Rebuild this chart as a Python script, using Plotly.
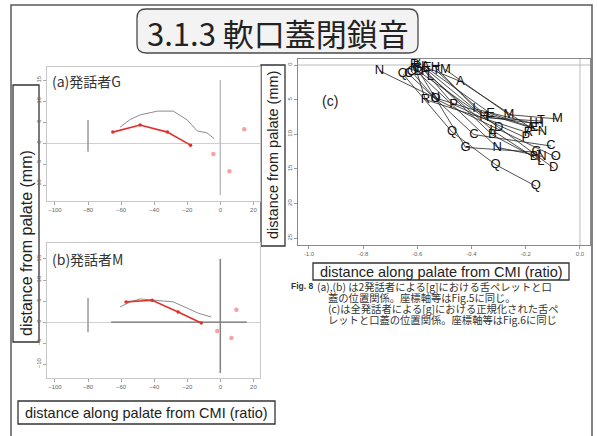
import plotly.graph_objects as go

W, H = 597, 436

# ---------------- data ----------------
# panel (a) speaker G
a_palate_x = [-60.6, -54.5, -48.5, -38.0, -28.5, -20.0, -14.0, -8.0, -3.6]
a_palate_y = [3.8, 5.6, 6.7, 7.6, 7.6, 5.5, 2.9, 2.4, 1.0]
a_tongue_x = [-65.0, -48.5, -32.0, -18.0]
a_tongue_y = [2.6, 4.3, 2.6, -0.5]
a_ref_x = [-4.2, 5.5, 14.5]
a_ref_y = [-2.6, -6.7, 3.3]
a_incisor_y = [5.5, -2.1]
a_origin_y = [15.0, -12.4]

# panel (b) speaker M
b_palate_x = [-60.6, -54.5, -48.5, -40.6, -28.5, -20.0, -13.3, -5.5]
b_palate_y = [3.6, 4.8, 5.5, 5.2, 4.8, 3.3, 2.1, 1.2]
b_tongue_x = [-57.0, -41.2, -25.5, -11.5]
b_tongue_y = [4.8, 5.2, 2.4, -0.2]
b_ref_x = [-1.8, 6.7, 9.7]
b_ref_y = [-2.1, -3.8, 2.9]
b_incisor_y = [5.7, -2.4]
b_origin_y = [15.0, -12.1]
b_base_x = [-66.0, 16.0]

ab_xticks = [-100, -80, -60, -40, -20, 0, 20]
ab_yticks = [15, 10, 5, 0, -5, -10]

# panel (c) all speakers, normalised
c_series = {
    "A": ([-0.570, -0.441, -0.180], [0.3, 2.36, 9.1]),
    "B": ([-0.601, -0.323, -0.169], [-0.29, 10.1, 13.3]),
    "C": ([-0.632, -0.391, -0.107], [1.3, 10.05, 11.7]),
    "D": ([-0.595, -0.300, -0.097], [0.91, 9.0, 14.9]),
    "E": ([-0.564, -0.330, -0.170], [0.43, 7.0, 9.1]),
    "G": ([-0.600, -0.422, -0.160], [0.5, 11.9, 12.6]),
    "H": ([-0.533, -0.354, -0.150], [0.34, 7.5, 8.5]),
    "I": ([-0.580, -0.391, -0.181], [0.2, 6.3, 8.37]),
    "L": ([-0.552, -0.320, -0.144], [1.64, 9.5, 14.0]),
    "M": ([-0.496, -0.262, -0.083], [0.67, 7.17, 7.79]),
    "N": ([-0.740, -0.533, -0.138], [0.82, 4.76, 9.57]),
    "K": ([-0.610, -0.305, -0.140], [0.6, 11.9, 13.2]),
    "O": ([-0.620, -0.533, -0.089], [1.0, 4.9, 13.3]),
    "P": ([-0.570, -0.466, -0.200], [1.0, 5.72, 10.5]),
    "Q": ([-0.653, -0.472, -0.311, -0.163], [1.3, 9.67, 14.4, 17.5]),
    "R": ([-0.610, -0.570, -0.190], [0.0, 5.0, 9.8]),
    "T": ([-0.530, -0.340, -0.144], [0.8, 7.6, 8.1]),
}
c_labels = {"K": "N"}
c_xticks = [-1.0, -0.8, -0.6, -0.4, -0.2, 0.0]
c_xticklabels = ["-1.0", "-0.8", "-0.6", "-0.4", "-0.2", "0.0"]
c_yticks = [0, 5, 10, 15, 20, 25]

# ---------------- helpers ----------------
def px(x):
    return x / W

def py(y):
    return 1 - y / H

SANS = "Liberation Sans, Arial, sans-serif"
CJK = "Noto Sans CJK JP, sans-serif"

fig = go.Figure()

def panel_ab(xa, ya, pal_x, pal_y, ton_x, ton_y, ref_x, ref_y, inc_y, org_y, org_col):
    fig.add_trace(go.Scatter(x=[-80, -80], y=inc_y, mode="lines",
                             line=dict(color="#999999", width=1.5),
                             xaxis=xa, yaxis=ya, showlegend=False))
    fig.add_trace(go.Scatter(x=[0, 0], y=org_y, mode="lines",
                             line=dict(color=org_col, width=1.5),
                             xaxis=xa, yaxis=ya, showlegend=False))
    fig.add_trace(go.Scatter(x=pal_x, y=pal_y, mode="lines",
                             line=dict(color="#8c8c8c", width=1.0),
                             xaxis=xa, yaxis=ya, showlegend=False))
    fig.add_trace(go.Scatter(x=ton_x, y=ton_y, mode="lines+markers",
                             line=dict(color="#e0302a", width=1.6),
                             marker=dict(color="#e0302a", size=3.5),
                             xaxis=xa, yaxis=ya, showlegend=False))
    fig.add_trace(go.Scatter(x=ref_x, y=ref_y, mode="markers",
                             marker=dict(color="#f4a3a3", size=4.5),
                             xaxis=xa, yaxis=ya, showlegend=False))

panel_ab("x", "y", a_palate_x, a_palate_y, a_tongue_x, a_tongue_y,
         a_ref_x, a_ref_y, a_incisor_y, a_origin_y, "#bdbdbd")
fig.add_trace(go.Scatter(x=b_base_x, y=[0, 0], mode="lines",
                         line=dict(color="#707070", width=1.2),
                         xaxis="x2", yaxis="y2", showlegend=False))
panel_ab("x2", "y2", b_palate_x, b_palate_y, b_tongue_x, b_tongue_y,
         b_ref_x, b_ref_y, b_incisor_y, b_origin_y, "#808080")

# panel c reference lines
fig.add_trace(go.Scatter(x=[-1.04, 0.037], y=[0, 0], mode="lines",
                         line=dict(color="#bbbbbb", width=1),
                         xaxis="x3", yaxis="y3", showlegend=False))
fig.add_trace(go.Scatter(x=[0, 0], y=[-0.87, 26.0], mode="lines",
                         line=dict(color="#bbbbbb", width=1),
                         xaxis="x3", yaxis="y3", showlegend=False))
for key, (xs, ys) in c_series.items():
    lab = c_labels.get(key, key)
    fig.add_trace(go.Scatter(x=xs, y=ys, mode="lines+text",
                             text=[lab] * len(xs), textposition="middle center",
                             textfont=dict(family=SANS, size=13, color="#111111"),
                             line=dict(color="#222222", width=0.8),
                             xaxis="x3", yaxis="y3", showlegend=False))

tickfont = dict(family=SANS, size=6, color="#666666")
ab_x = dict(range=[-104.8, 24], tickvals=ab_xticks, showline=True, mirror=True,
            linecolor="#c8c8c8", linewidth=1, ticks="outside", ticklen=3,
            tickcolor="#aaaaaa", showgrid=False, zeroline=False, tickfont=tickfont,
            domain=[px(47), px(260)])
ab_y = dict(tickvals=ab_yticks, showline=True, mirror=True, linecolor="#c8c8c8",
            linewidth=1, ticks="outside", ticklen=3, tickcolor="#aaaaaa",
            showgrid=False, zeroline=True, zerolinecolor="#d0d0d0", zerolinewidth=1,
            tickfont=tickfont, tickangle=-90)

fig.update_layout(
    width=W, height=H, margin=dict(l=0, r=0, t=0, b=0),
    paper_bgcolor="white", plot_bgcolor="white",
    xaxis=dict(ab_x, anchor="y"),
    yaxis=dict(ab_y, range=[-13.8, 18.1], domain=[py(201), py(67)], anchor="x"),
    xaxis2=dict(ab_x, anchor="y2"),
    yaxis2=dict(ab_y, range=[-13.3, 18.8], domain=[py(378), py(243)], anchor="x2"),
    xaxis3=dict(range=[-1.04, 0.037], tickvals=c_xticks, ticktext=c_xticklabels,
                domain=[px(298), px(590)], anchor="y3", showline=True, mirror=True,
                linecolor="#8a8a8a", linewidth=1, ticks="outside", ticklen=3,
                tickcolor="#999999", showgrid=False, zeroline=False, tickfont=tickfont),
    yaxis3=dict(range=[26.0, -0.87], tickvals=c_yticks, domain=[py(245), py(59)],
                anchor="x3", showline=True, mirror=True, linecolor="#8a8a8a",
                linewidth=1, ticks="outside", ticklen=3, tickcolor="#999999",
                showgrid=False, zeroline=False, tickfont=tickfont, tickangle=-90),
)

shapes = []
# slide frame
shapes.append(dict(type="rect", xref="paper", yref="paper", x0=px(11), x1=px(592),
                   y0=py(445), y1=py(5), line=dict(color="#5a5a5a", width=1.5)))
# title rounded box
x0, x1, y0, y1 = px(137), px(418), py(53), py(9)
rx, ry = 9 / W, 9 / H
path = (f"M {x0+rx},{y1} L {x1-rx},{y1} Q {x1},{y1} {x1},{y1-ry} "
        f"L {x1},{y0+ry} Q {x1},{y0} {x1-rx},{y0} L {x0+rx},{y0} "
        f"Q {x0},{y0} {x0},{y0+ry} L {x0},{y1-ry} Q {x0},{y1} {x0+rx},{y1} Z")
shapes.append(dict(type="path", xref="paper", yref="paper", path=path,
                   fillcolor="#f3f3f3", line=dict(color="#4a4a4a", width=1.3), layer="below"))
# axis title boxes
for (l, t, r, b) in [(13, 85, 39, 342), (261, 65, 285, 246),
                     (18, 401, 275, 424), (313, 263, 569, 280)]:
    shapes.append(dict(type="rect", xref="paper", yref="paper", x0=px(l), x1=px(r),
                       y0=py(b), y1=py(t), fillcolor="white",
                       line=dict(color="#333333", width=1.3), layer="below"))
fig.update_layout(shapes=shapes)


def A(text, x, y, font, xanchor="center", angle=0):
    return dict(text=text, x=px(x), y=py(y), xref="paper", yref="paper",
                xanchor=xanchor, yanchor="middle", textangle=angle,
                showarrow=False, font=font, borderpad=0)


ann = [
    A("3.1.3 軟口蓋閉鎖音", 278, 32, dict(family=CJK, size=31, color="#222222")),
    A("(a)発話者G", 51, 81, dict(family=CJK, size=14, color="#333333"), "left"),
    A("(b)発話者M", 51, 259, dict(family=CJK, size=14, color="#333333"), "left"),
    A("(c)", 330, 101, dict(family=SANS, size=14, color="#222222")),
    A("distance from palate (mm)", 26, 243, dict(family=SANS, size=16, color="#222222"), angle=-90),
    A("distance from palate (mm)", 273, 155, dict(family=SANS, size=14.5, color="#222222"), angle=-90),
    A("distance along palate from CMI (ratio)", 146, 412.5, dict(family=SANS, size=14.5, color="#222222")),
    A("distance along palate from CMI (ratio)", 441, 271.5, dict(family=SANS, size=14.5, color="#222222")),
    A("<b>Fig. 8</b>", 290, 286, dict(family=SANS, size=8.5, color="#333333"), "left"),
]
cap_font = dict(family=CJK, size=10.3, color="#333333")
cap_lines = [
    (316, 286, "(a),(b) は2発話者による[g]における舌ペレットと口"),
    (327, 297, "蓋の位置関係。座標軸等はFig.5に同じ。"),
    (327, 308, "(c)は全発話者による[g]における正規化された舌ペ"),
    (327, 319, "レットと口蓋の位置関係。座標軸等はFig.6に同じ"),
]
for (xx, yy, tx) in cap_lines:
    ann.append(A(tx, xx, yy, cap_font, "left"))
fig.update_layout(annotations=ann)

fig.write_html("out.html")
